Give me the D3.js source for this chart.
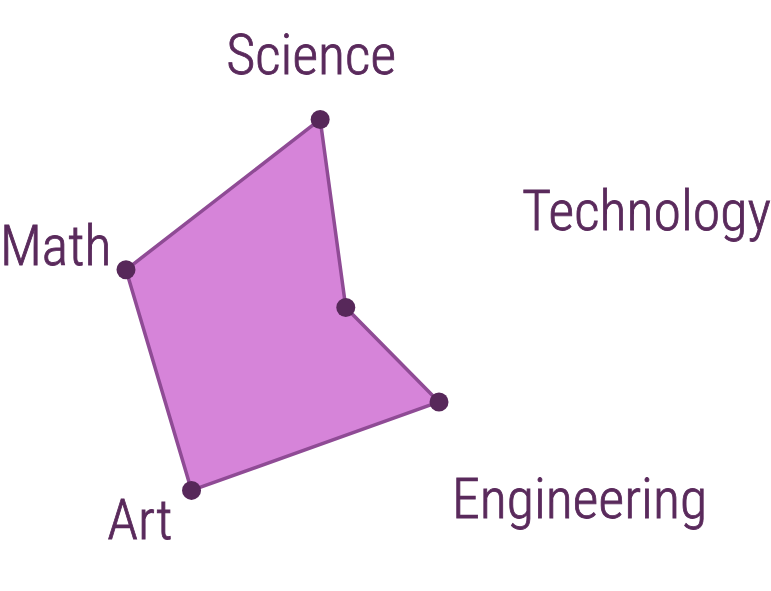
<!DOCTYPE html>
<html>
<head>
<meta charset="utf-8">
<script src="https://cdn.jsdelivr.net/npm/d3@7"></script>
<style>
  html, body { margin: 0; padding: 0; background: #ffffff; }
  svg { display: block; }
</style>
</head>
<body>
<svg id="chart" width="771" height="591"></svg>
<script>
// ---- data ----
const categories = ["Science", "Technology", "Engineering", "Art", "Math"];
const values = [89, 3, 56, 99, 78];
const valueDomain = [0, 100];

// ---- layout ----
const W = 771, H = 591;
const cx = 338, cy = 310;
const rxMax = 280;                 // horizontal radius of full scale
const ryMax = rxMax * H / W;       // vertical radius (chart stretched to canvas)
const startAngle = -4.1 * Math.PI / 180;
const labelRx = 375, labelRy = 252; // ellipse on which the axis labels sit
const labelCy = 305;

const svg = d3.select("#chart");

const rX = d3.scaleLinear().domain(valueDomain).range([0, rxMax]);
const rY = d3.scaleLinear().domain(valueDomain).range([0, ryMax]);
const angle = d3.scaleLinear()
  .domain([0, categories.length])
  .range([startAngle, startAngle + 2 * Math.PI]);

const pt = (v, i) => [cx + rX(v) * Math.sin(angle(i)), cy - rY(v) * Math.cos(angle(i))];

const data = categories.map((c, i) => ({ cat: c, value: values[i], i }));

const line = d3.line()
  .x(d => pt(d.value, d.i)[0])
  .y(d => pt(d.value, d.i)[1])
  .curve(d3.curveLinearClosed);

svg.append("path")
  .datum(data)
  .attr("d", line)
  .attr("fill", "#d684d9")
  .attr("stroke", "#8f4b95")
  .attr("stroke-width", 3.5)
  .attr("stroke-linejoin", "round");

svg.append("g")
  .selectAll("circle")
  .data(data)
  .join("circle")
  .attr("cx", d => pt(d.value, d.i)[0])
  .attr("cy", d => pt(d.value, d.i)[1])
  .attr("r", 9.5)
  .attr("fill", "#57285a");

// labels: placed on an ellipse along each axis, then kept inside the canvas
const labels = svg.append("g")
  .selectAll("text")
  .data(data)
  .join("text")
  .text(d => d.cat)
  .attr("font-family", "'Roboto Condensed', Roboto, sans-serif")
  .attr("font-weight", 300)
  .attr("font-size", 56)
  .attr("fill", "#5a2a5c")
  .attr("stroke", "#5a2a5c")
  .attr("stroke-width", 0.8)
  .attr("text-anchor", "middle")
  .attr("dy", "0.36em");

labels.each(function(d) {
  const a = angle(d.i);
  const x = cx + labelRx * Math.sin(a);
  const y = labelCy - labelRy * Math.cos(a);
  const w = this.getComputedTextLength();
  const xc = Math.max(w / 2, Math.min(W - w / 2, x));
  d3.select(this).attr("x", xc).attr("y", y);
});
</script>
</body>
</html>
